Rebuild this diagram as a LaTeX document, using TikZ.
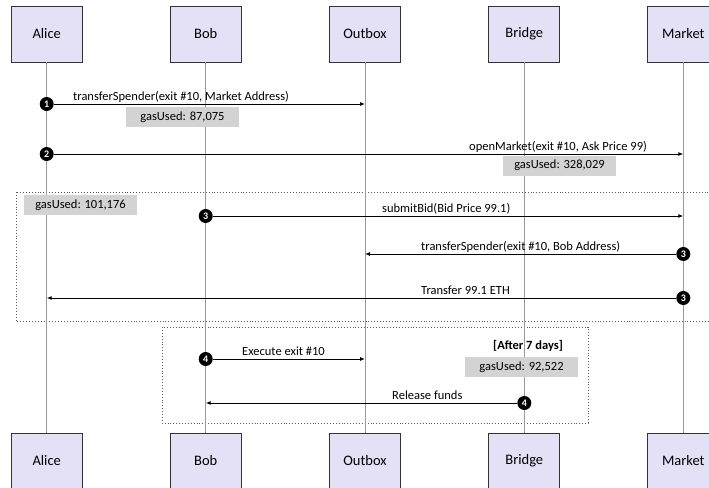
\documentclass[tikz,border=0pt]{standalone}
\usepackage{fontspec}
\setmainfont{Carlito}
\usetikzlibrary{arrows.meta}
\definecolor{lavender}{RGB}{228,224,246}
\definecolor{gasgray}{RGB}{211,211,211}
\tikzset{
  actor/.style={draw=black!80, line width=0.9pt, fill=lavender, minimum width=71pt, minimum height=56pt, font=\fontsize{14.5}{16}\selectfont},
  life/.style={draw=black!40, line width=0.8pt},
  msg/.style={draw=black, line width=0.9pt, -{Latex[length=5pt,width=4pt]}},
  num/.style={circle, fill=black, text=white, inner sep=0pt, minimum size=14pt, font=\fontsize{10}{10}\selectfont\bfseries},
  gas/.style={fill=gasgray, minimum width=113pt, minimum height=20pt, inner sep=0pt, font=\fontsize{12.5}{14}\selectfont},
  lbl/.style={anchor=base west, inner sep=0pt, font=\fontsize{12.5}{14}\selectfont},
  optbox/.style={draw=black!65, dotted, line width=0.9pt}
}

\begin{document}
\begin{tikzpicture}[x=1pt, y=-1pt]
  \clip (0,0) rectangle (709,487);

  % actors, top and bottom
  \node (alice)  at (46.7, 34) [actor] {Alice};
  \node (bob)    at (205.7,34) [actor] {Bob};
  \node (outbox) at (365,  34) [actor] {Outbox};
  \node (bridge) at (524.3,34) [actor] {Bridge};
  \node (market) at (683.3,34) [actor] {Market};
  \node (alice2)  at (46.7, 461) [actor] {Alice};
  \node (bob2)    at (205.7,461) [actor] {Bob};
  \node (outbox2) at (365,  461) [actor] {Outbox};
  \node (bridge2) at (524.3,461) [actor] {Bridge};
  \node (market2) at (683.3,461) [actor] {Market};

  % dotted groups
  \draw [optbox] (16, 192) rectangle (716, 321);
  \draw [optbox] (162, 327) rectangle (588, 423);

  % lifelines
  \draw [life] (alice.south)  -- (alice2.north);
  \draw [life] (bob.south)    -- (bob2.north);
  \draw [life] (outbox.south) -- (outbox2.north);
  \draw [life] (bridge.south) -- (bridge2.north);
  \draw [life] (market.south) -- (market2.north);

  % gas notes
  \node (gas1) at (182.5,117)  [gas] {gasUsed: 87,075};
  \node (gas2) at (559.5,165.5) [gas] {gasUsed: 328,029};
  \node (gas3) at (80.5, 205)  [gas] {gasUsed: 101,176};
  \node (gas4) at (521.5,367)  [gas] {gasUsed: 92,522};

  % step 1
  \coordinate (e1) at (365, 104);
  \node (n1) at (46.7,104) [num] {1};
  \draw [msg] (n1) -- (e1);
  \node (l1) at (73, 100) [lbl] {transferSpender(exit \#10, Market Address)};

  % step 2
  \coordinate (e2) at (683.3, 154);
  \node (n2) at (46.7,154) [num] {2};
  \draw [msg] (n2) -- (e2);
  \node (l2) at (469, 150) [lbl] {openMarket(exit \#10, Ask Price 99)};

  % step 3
  \coordinate (e3a) at (683.3, 216);
  \coordinate (e3b) at (365, 254);
  \coordinate (e3c) at (46.7, 298);
  \node (n3a) at (205.7,216) [num] {3};
  \node (n3b) at (683.3,254) [num] {3};
  \node (n3c) at (683.3,298) [num] {3};
  \draw [msg] (n3a) -- (e3a);
  \draw [msg] (n3b) -- (e3b);
  \draw [msg] (n3c) -- (e3c);
  \node (l3a) at (382, 212) [lbl] {submitBid(Bid Price 99.1)};
  \node (l3b) at (421, 250) [lbl] {transferSpender(exit \#10, Bob Address)};
  \node (l3c) at (421, 294) [lbl] {Transfer 99.1 ETH};

  % step 4
  \coordinate (e4a) at (365, 359);
  \coordinate (e4b) at (205.7, 403);
  \node (n4a) at (205.7,359) [num] {4};
  \node (n4b) at (524.3,403) [num] {4};
  \draw [msg] (n4a) -- (e4a);
  \draw [msg] (n4b) -- (e4b);
  \node (l4a) at (242, 355) [lbl] {Execute exit \#10};
  \node (l4b) at (392, 399) [lbl] {Release funds};
  \node (after) at (493, 349) [lbl, font=\fontsize{12.5}{14}\selectfont\bfseries] {[After 7 days]};
\end{tikzpicture}
\end{document}
